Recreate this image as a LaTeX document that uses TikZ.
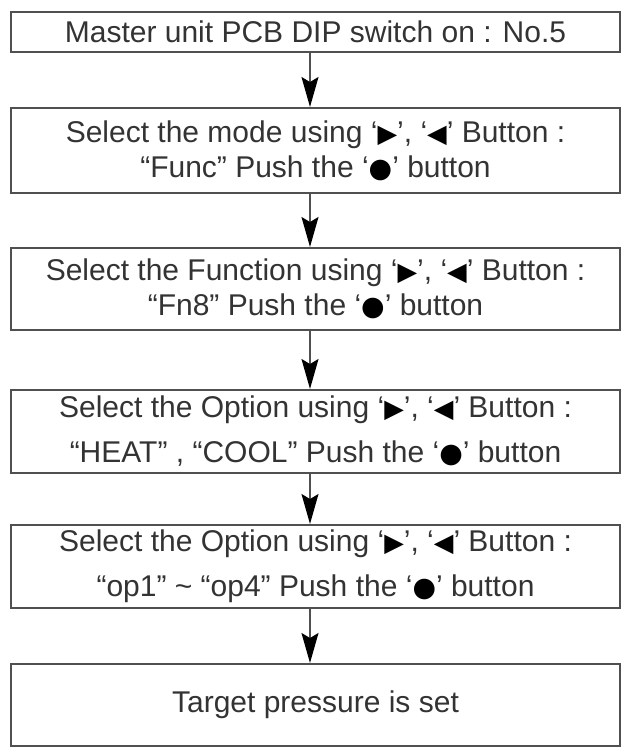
\documentclass[tikz,border=0pt]{standalone}
\usepackage{fontspec}
\setmainfont{Liberation Sans}
\newfontfamily\symfont{DejaVu Sans}
\usetikzlibrary{arrows.meta}
\definecolor{boxline}{HTML}{505050}
\definecolor{txt}{HTML}{333333}
\newcommand{\rtri}{{\symfont\color{black}\scalebox{0.85}{▶}}}
\newcommand{\ltri}{{\symfont\color{black}\scalebox{0.85}{◀}}}
\newcommand{\bdot}{{\symfont\color{black}\scalebox{0.9}{●}}}
\tikzset{
  stepbox/.style={draw=boxline, line width=2pt, minimum width=609pt, inner sep=0pt,
    align=center, text=txt, font=\fontsize{30}{35}\selectfont},
  widebox/.style={stepbox, font=\fontsize{30}{45}\selectfont},
  arr/.style={draw=boxline, line width=1.5pt, -{Stealth[length=30pt, width=17pt, inset=5pt, color=black]}}
}
\begin{document}
\begin{tikzpicture}[x=1pt, y=-1pt]
\useasboundingbox (0,0) rectangle (626,748);
\coordinate (ax) at (310,0);
\node[stepbox, minimum height=40pt] (b1) at (315.5,32) {Master unit PCB DIP switch on : No.5};
\node[stepbox, minimum height=85pt] (b2) at (315.5,150.5) {Select the mode using ‘\rtri’, ‘\ltri’ Button :\\“Func” Push the ‘\bdot’ button};
\node[stepbox, minimum height=82pt] (b3) at (315.5,289) {Select the Function using ‘\rtri’, ‘\ltri’ Button :\\“Fn8” Push the ‘\bdot’ button};
\node[widebox, minimum height=83pt] (b4) at (315.5,431.5) {Select the Option using ‘\rtri’, ‘\ltri’ Button :\\“HEAT” , “COOL” Push the ‘\bdot’ button};
\node[widebox, minimum height=83pt] (b5) at (315.5,566.5) {Select the Option using ‘\rtri’, ‘\ltri’ Button :\\“op1” \textasciitilde{} “op4” Push the ‘\bdot’ button};
\node[stepbox, minimum height=82pt] (b6) at (315.5,705) {Target pressure is set};
\draw[arr] (b1.south -| ax) -- (b2.north -| ax);
\draw[arr] (b2.south -| ax) -- (b3.north -| ax);
\draw[arr] (b3.south -| ax) -- (b4.north -| ax);
\draw[arr] (b4.south -| ax) -- (b5.north -| ax);
\draw[arr] (b5.south -| ax) -- (b6.north -| ax);
\end{tikzpicture}
\end{document}
